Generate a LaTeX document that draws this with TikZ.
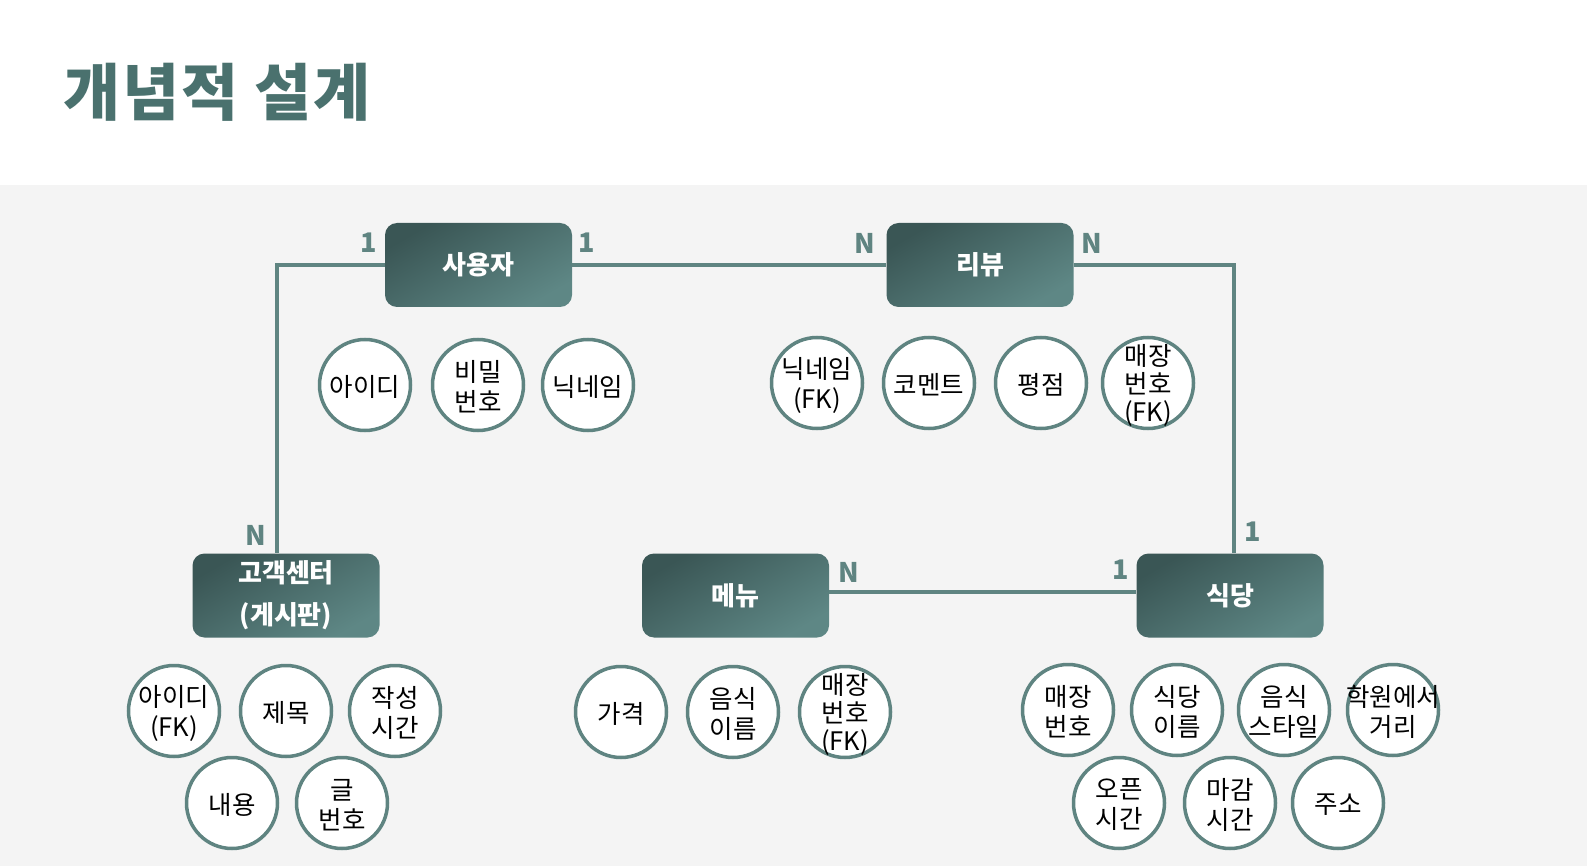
\documentclass[tikz,border=0pt]{standalone}
\usepackage{fontspec}
\newfontfamily\kr{Noto Sans CJK KR}
\newfontfamily\krtitle[LetterSpace=3]{Noto Sans CJK KR}
\definecolor{linec}{HTML}{5F8481}
\definecolor{boxdark}{HTML}{3A5655}
\definecolor{boxlight}{HTML}{5E8785}
\definecolor{bgc}{HTML}{F4F4F4}
\definecolor{titlec}{HTML}{4A716E}
\begin{document}
\begin{tikzpicture}[x=1pt,y=-1pt,
 entity/.style={rectangle, rounded corners=12pt, minimum width=187pt, minimum height=84pt, inner sep=0pt, top color=boxdark, bottom color=boxlight, shading angle=30, text=white, font=\kr\bfseries\fontsize{26}{42}\selectfont, align=center},
 attr/.style={circle, draw=linec, line width=3.5pt, fill=white, minimum size=91pt, inner sep=0pt},
 attrtxt/.style={font=\kr\fontsize{25.5}{30}\selectfont, align=center, text=black, inner sep=0pt, yshift=-2pt},
 attrtxtthree/.style={attrtxt, font=\kr\fontsize{25.5}{28}\selectfont},
 card/.style={font=\kr\bfseries\fontsize{27}{27}\selectfont, text=linec, inner sep=0pt},
 rel/.style={draw=linec, line width=4pt}]
\useasboundingbox (0,0) rectangle (1587,866);
\fill[white] (0,0) rectangle (1587,185);
\fill[bgc] (0,185) rectangle (1587,866);
\node[font=\krtitle\bfseries\fontsize{62}{62}\selectfont, text=titlec, inner sep=0pt] (title) at (217,92) {개념적 설계};

% entities
\node[entity] (user) at (478.5,265) {사용자};
\node[entity] (review) at (980,265) {리뷰};
\node[entity] (cs) at (286,595.5) {고객센터\\(게시판)};
\node[entity] (menu) at (735.5,595.5) {메뉴};
\node[entity] (rest) at (1230,595.5) {식당};

% relationships
\draw[rel] (user.west) -| ([xshift=-9pt]cs.north);
\draw[rel] (user.east) -- (review.west);
\draw[rel] (review.east) -| ([xshift=4pt]rest.north);
\draw[rel] ([yshift=4pt]menu.east) -- ([yshift=4pt]rest.west);

% cardinalities
\node[card] (c1) at (369,243) {1};
\node[card] (c2) at (587,243) {1};
\node[card] (c3) at (865,243) {N};
\node[card] (c4) at (1092,243) {N};
\node[card] (c5) at (256,535) {N};
\node[card] (c6) at (1253,532) {1};
\node[card] (c7) at (849,572) {N};
\node[card] (c8) at (1121,570) {1};

% user attributes
\node[attr, label={[attrtxt]center:{아이디}}] (u1) at (365,385) {};
\node[attr, label={[attrtxt]center:{비밀\\번호}}] (u2) at (478,385) {};
\node[attr, label={[attrtxt]center:{닉네임}}] (u3) at (588,385) {};

% review attributes
\node[attr, label={[attrtxt]center:{닉네임\\(FK)}}] (r1) at (817,383) {};
\node[attr, label={[attrtxt]center:{코멘트}}] (r2) at (929,383) {};
\node[attr, label={[attrtxt]center:{평점}}] (r3) at (1041,383) {};
\node[attr, label={[attrtxtthree]center:{매장\\번호\\(FK)}}] (r4) at (1148,383) {};

% customer center attributes
\node[attr, label={[attrtxt]center:{아이디\\(FK)}}] (s1) at (174,711) {};
\node[attr, label={[attrtxt]center:{제목}}] (s2) at (286,711) {};
\node[attr, label={[attrtxt]center:{작성\\시간}}] (s3) at (395,711) {};
\node[attr, label={[attrtxt]center:{내용}}] (s4) at (232,803) {};
\node[attr, label={[attrtxt]center:{글\\번호}}] (s5) at (342,803) {};

% menu attributes
\node[attr, label={[attrtxt]center:{가격}}] (m1) at (621,712) {};
\node[attr, label={[attrtxt]center:{음식\\이름}}] (m2) at (733,712) {};
\node[attr, label={[attrtxtthree]center:{매장\\번호\\(FK)}}] (m3) at (845,712) {};

% restaurant attributes
\node[attr, label={[attrtxt]center:{매장\\번호}}] (t1) at (1068,710) {};
\node[attr, label={[attrtxt]center:{식당\\이름}}] (t2) at (1177,710) {};
\node[attr, label={[attrtxt]center:{음식\\스타일}}] (t3) at (1284,710) {};
\node[attr, label={[attrtxt]center:{학원에서\\거리}}] (t4) at (1393,710) {};
\node[attr, label={[attrtxt]center:{오픈\\시간}}] (t5) at (1119,803) {};
\node[attr, label={[attrtxt]center:{마감\\시간}}] (t6) at (1230,803) {};
\node[attr, label={[attrtxt]center:{주소}}] (t7) at (1338,803) {};
\end{tikzpicture}
\end{document}
